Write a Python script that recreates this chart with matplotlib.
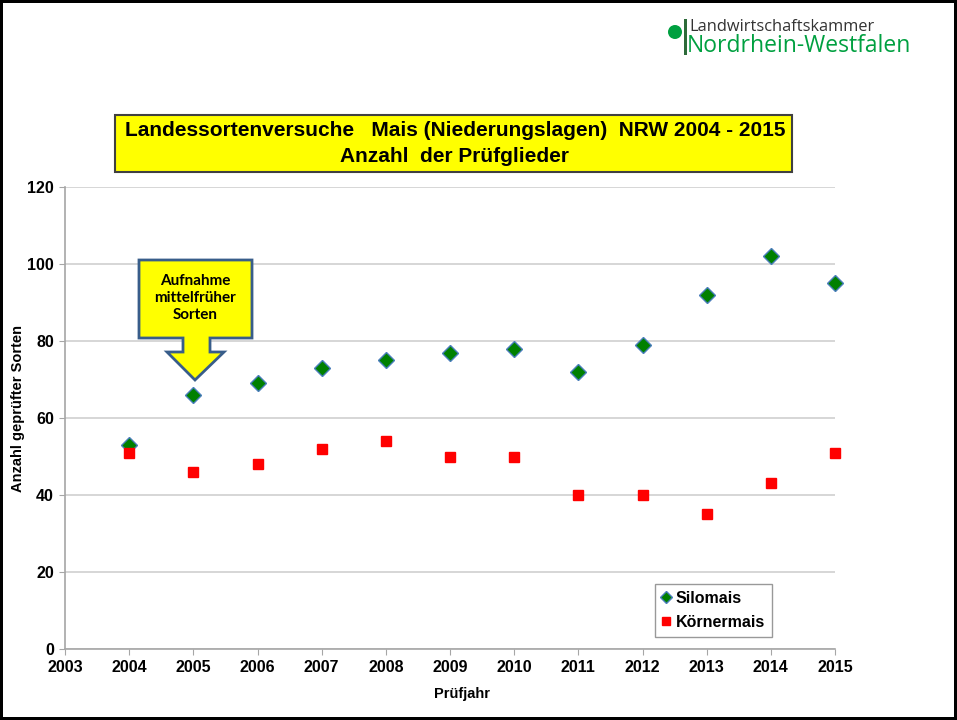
import matplotlib
matplotlib.use('Agg')
import matplotlib.pyplot as plt
from matplotlib.patches import Rectangle, Polygon, Ellipse

# data
years = [2004, 2005, 2006, 2007, 2008, 2009, 2010, 2011, 2012, 2013, 2014, 2015]
silomais = [53, 66, 69, 73, 75, 77, 78, 72, 79, 92, 102, 95]
koernermais = [51, 46, 48, 52, 54, 50, 50, 40, 40, 35, 43, 51]
x_ticks = list(range(2003, 2016))
y_ticks = [0, 20, 40, 60, 80, 100, 120]

W, H = 957, 720
plt.rcParams['font.family'] = ['Liberation Sans', 'DejaVu Sans']


def px(x, y):
    # pixel position (from top left) -> figure fraction
    return x / W, 1 - y / H


fig = plt.figure(figsize=(W / 100, H / 100), dpi=100)
fig.patch.set_edgecolor('black')
fig.patch.set_linewidth(3)

ax = fig.add_axes([65 / W, 1 - 649 / H, (835 - 65) / W, (649 - 187) / H])
ax.set_xlim(2003, 2015)
ax.set_ylim(0, 120)
ax.set_xticks(x_ticks)
ax.set_yticks(y_ticks)
ax.grid(axis='y', color='#cfcfcf', linewidth=1.2)
ax.set_axisbelow(True)
for s in ['top', 'right']:
    ax.spines[s].set_visible(False)
for s in ['left', 'bottom']:
    ax.spines[s].set_color('#a6a6a6')
    ax.spines[s].set_linewidth(1.2)
ax.tick_params(length=4, color='#a6a6a6', labelsize=11.5, pad=4)
for lab in ax.get_xticklabels() + ax.get_yticklabels():
    lab.set_fontweight('bold')

ax.plot(years, silomais, linestyle='none', marker='D', ms=8.5, color='#008000',
        markeredgecolor='#4a7ebb', markeredgewidth=1, clip_on=False, label='Silomais', zorder=3)
ax.plot(years, koernermais, linestyle='none', marker='s', ms=7.5, color='#ff0000',
        markeredgecolor='#ff0000', clip_on=False, label='Körnermais', zorder=3)

ax.set_xlabel('Prüfjahr', fontsize=10.5, fontweight='bold')
ax.xaxis.set_label_coords(0.516, -0.083)
ax.set_ylabel('Anzahl geprüfter Sorten', fontsize=10.5, fontweight='bold')
ax.yaxis.set_label_coords(-0.052, 0.52)

leg = ax.legend(loc='lower left', bbox_to_anchor=px(655, 637),
                bbox_transform=fig.transFigure, prop={'weight': 'bold', 'size': 11.5},
                frameon=True, fancybox=False, edgecolor='#808080', handlelength=0.5,
                handletextpad=0.35, borderpad=0.45, labelspacing=0.55, markerscale=0.75,
                borderaxespad=0)
leg.get_frame().set_linewidth(1)

# title box
x0, y0 = px(115, 172)
fig.patches.append(Rectangle((x0, y0), (792 - 115) / W, (172 - 115) / H, transform=fig.transFigure,
                             facecolor='#ffff00', edgecolor='#404040', linewidth=1.5))
fig.text(*px(455, 131), 'Landessortenversuche   Mais (Niederungslagen)  NRW 2004 - 2015',
         ha='center', va='center', fontsize=15, fontweight='bold')
fig.text(*px(455, 157), 'Anzahl  der Prüfglieder', ha='center', va='center',
         fontsize=15, fontweight='bold')

# callout arrow
arrow_pts = [(139, 260), (252, 260), (252, 338), (210, 338), (210, 352), (224, 352),
             (195, 380), (167, 352), (183, 352), (183, 338), (139, 338)]
fig.patches.append(Polygon([px(x, y) for x, y in arrow_pts], closed=True, transform=fig.transFigure,
                           facecolor='#ffff00', edgecolor='#385d8a', linewidth=2, zorder=5))
fig.text(*px(195, 298), 'Aufnahme\nmittelfrüher\nSorten', ha='center', va='center',
         fontsize=11, fontweight='bold', family=['Lato', 'DejaVu Sans'], linespacing=1.3, zorder=6)

# logo
fig.patches.append(Ellipse(px(675, 32), 14 / W, 14 / H, transform=fig.transFigure,
                           facecolor='#00a040', edgecolor='none'))
fig.patches.append(Rectangle(px(683.5, 55), 3 / W, 36 / H, transform=fig.transFigure,
                             facecolor='#2e6b3a', edgecolor='none'))
fig.text(*px(689, 27), 'Landwirtschaftskammer', ha='left', va='center', fontsize=11.8,
         family=['Open Sans', 'DejaVu Sans'], color='#333333')
fig.text(*px(687, 46), 'Nordrhein-Westfalen', ha='left', va='center', fontsize=16.5,
         family=['Open Sans', 'DejaVu Sans'], color='#00a040')

fig.savefig('out.png', dpi=100)
